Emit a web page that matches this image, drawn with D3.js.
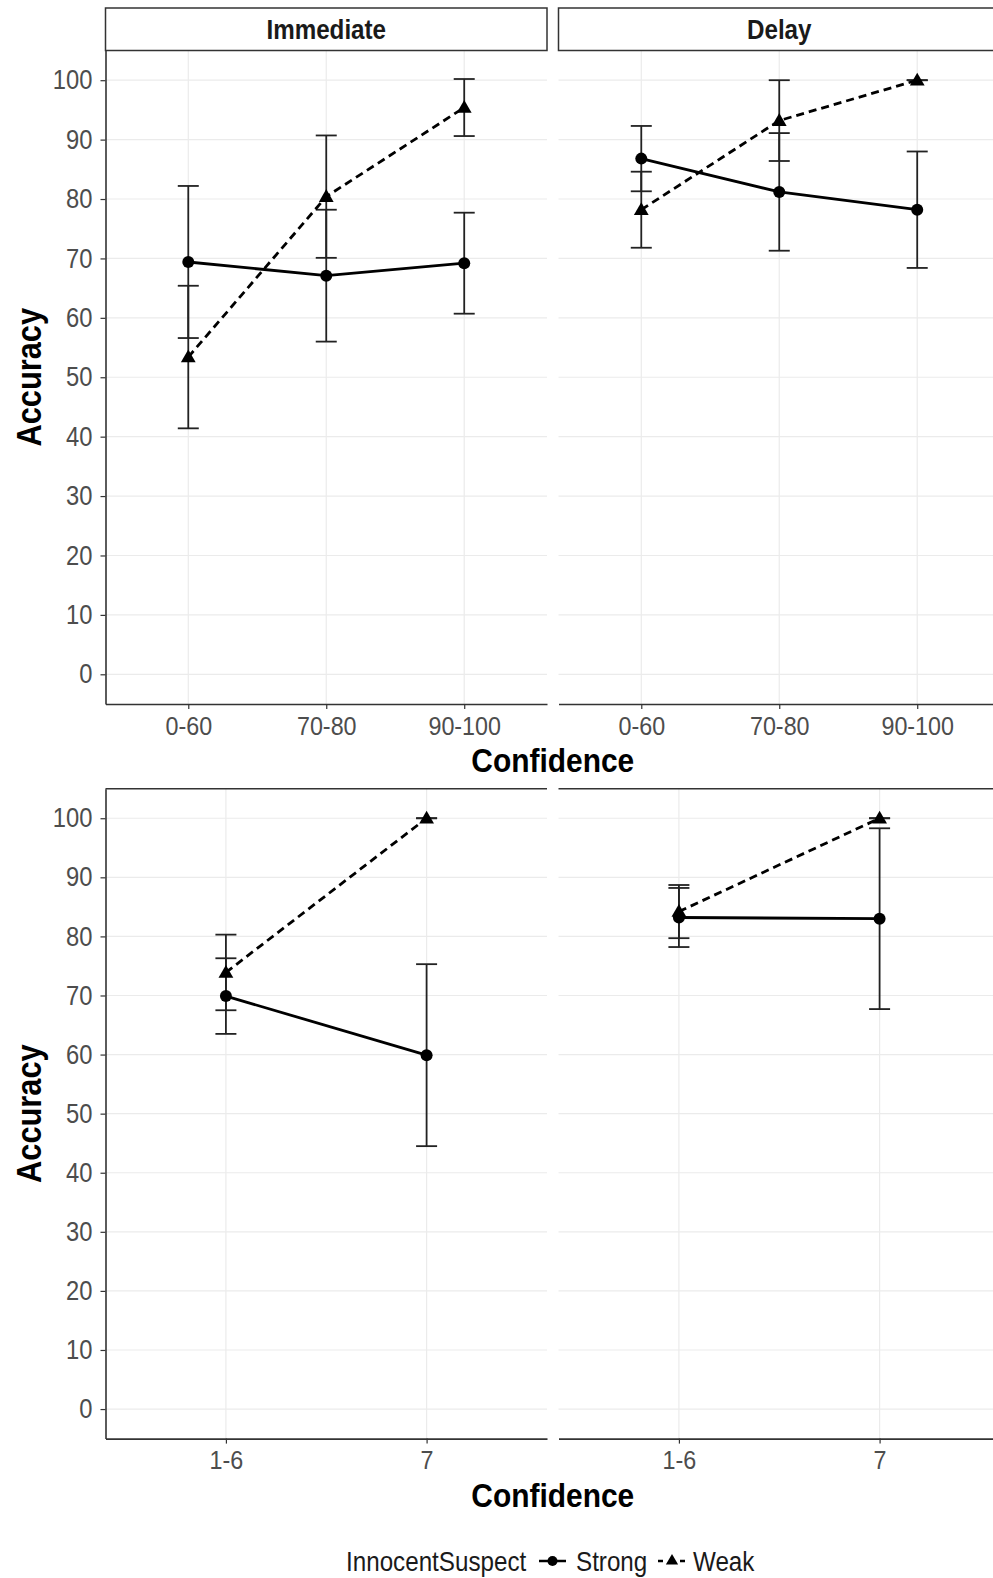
<!DOCTYPE html>
<html>
<head>
<meta charset="utf-8">
<script src="https://cdn.jsdelivr.net/npm/d3@7"></script>
<style>
  html, body { margin: 0; padding: 0; background: #fff; }
  #chart { width: 993px; height: 1578px; overflow: hidden; }
  text { font-family: "Liberation Sans", Arial, sans-serif; }
</style>
</head>
<body>
<div id="chart"></div>
<script>
// categories
const CONDITIONS = ["Immediate", "Delay"];
const TOP_CATS = ["0-60", "70-80", "90-100"];
const BOTTOM_CATS = ["1-6", "7"];
const SERIES = ["Strong", "Weak"];
const Y_TICKS = [0, 10, 20, 30, 40, 50, 60, 70, 80, 90, 100];

// top row (confidence 0-100 bins): means and error half-widths
const IMM_STRONG_TOP = [69.4, 67.1, 69.2];
const IMM_STRONG_TOP_ERR = [12.8, 11.1, 8.5];
const IMM_WEAK_TOP = [53.4, 80.4, 95.4];
const IMM_WEAK_TOP_ERR = [12.0, 10.3, 4.8];
const DEL_STRONG_TOP = [86.8, 81.2, 78.2];
const DEL_STRONG_TOP_ERR = [5.5, 9.9, 9.8];
const DEL_WEAK_TOP = [78.2, 93.2, 100];
const DEL_WEAK_TOP_ERR = [6.4, 6.8, 0];

// bottom row (confidence 1-7 scale)
const IMM_STRONG_BOT = [69.9, 59.9];
const IMM_STRONG_BOT_ERR = [6.4, 15.4];
const IMM_WEAK_BOT = [73.9, 100];
const IMM_WEAK_BOT_ERR = [6.4, 0];
const DEL_STRONG_BOT = [83.2, 83.0];
const DEL_STRONG_BOT_ERR = [5.0, 15.3];
const DEL_WEAK_BOT = [84.2, 100];
const DEL_WEAK_BOT_ERR = [4.5, 0];

// build series per panel
function makeSeries(cats, strong, strongErr, weak, weakErr) {
  return [
    { name: "Strong", pts: cats.map((c, i) => ({ cat: c, v: strong[i], e: strongErr[i] })) },
    { name: "Weak", pts: cats.map((c, i) => ({ cat: c, v: weak[i], e: weakErr[i] })) }
  ];
}

const rows = [
  { cats: TOP_CATS, y0: 50.5, y1: 704, strip: true,
    data: [makeSeries(TOP_CATS, IMM_STRONG_TOP, IMM_STRONG_TOP_ERR, IMM_WEAK_TOP, IMM_WEAK_TOP_ERR),
           makeSeries(TOP_CATS, DEL_STRONG_TOP, DEL_STRONG_TOP_ERR, DEL_WEAK_TOP, DEL_WEAK_TOP_ERR)] },
  { cats: BOTTOM_CATS, y0: 788.7, y1: 1438.6, strip: false,
    data: [makeSeries(BOTTOM_CATS, IMM_STRONG_BOT, IMM_STRONG_BOT_ERR, IMM_WEAK_BOT, IMM_WEAK_BOT_ERR),
           makeSeries(BOTTOM_CATS, DEL_STRONG_BOT, DEL_STRONG_BOT_ERR, DEL_WEAK_BOT, DEL_WEAK_BOT_ERR)] }
];

const cols = [105.5, 558.5];
const panelW = 441.5;
const AXIS = "#333333";
const GRID = "#ebebeb";
const TICK_TXT = "#4d4d4d";
const SQX = 0.88; // the source text is slightly condensed

const svg = d3.select("#chart").append("svg")
  .attr("width", 993)
  .attr("height", 1578);

function drawTriangle(g, x, y, s) {
  g.append("path")
    .attr("d", d3.symbol(d3.symbolTriangle, s)())
    .attr("transform", `translate(${x},${y + 1})`)
    .attr("fill", "#000");
}

// condensed text helper
function label(g, x, y, str, size, opts = {}) {
  return g.append("text")
    .attr("transform", `translate(${x},${y})${opts.rotate ? " rotate(-90)" : ""} scale(${SQX},1)`)
    .attr("dy", "0.36em")
    .attr("text-anchor", opts.anchor || "middle")
    .style("font-size", size + "px")
    .style("font-weight", opts.bold ? "bold" : "normal")
    .attr("fill", opts.fill || "#000")
    .text(str);
}

rows.forEach(row => {
  const y = d3.scaleLinear().domain([-5, 105]).range([row.y1, row.y0]);

  cols.forEach((x0, ci) => {
    const x = d3.scalePoint().domain(row.cats).range([x0, x0 + panelW]).padding(0.6);
    const g = svg.append("g");

    // grid
    g.selectAll(".hgrid").data(Y_TICKS).enter().append("line")
      .attr("x1", x0).attr("x2", x0 + panelW)
      .attr("y1", d => y(d)).attr("y2", d => y(d))
      .attr("stroke", GRID).attr("stroke-width", 1.2);
    g.selectAll(".vgrid").data(row.cats).enter().append("line")
      .attr("x1", d => x(d)).attr("x2", d => x(d))
      .attr("y1", row.y0).attr("y2", row.y1)
      .attr("stroke", GRID).attr("stroke-width", 1.2);

    // strip or top border
    if (row.strip) {
      g.append("rect")
        .attr("x", x0).attr("y", 8)
        .attr("width", panelW).attr("height", row.y0 - 8)
        .attr("fill", "#fff").attr("stroke", AXIS).attr("stroke-width", 1.5);
      label(g, x0 + panelW / 2, (8 + row.y0) / 2, CONDITIONS[ci], 27.5, { bold: true, fill: "#1a1a1a" });
    } else {
      g.append("line")
        .attr("x1", x0).attr("x2", x0 + panelW)
        .attr("y1", row.y0).attr("y2", row.y0)
        .attr("stroke", AXIS).attr("stroke-width", 1.5);
    }

    // x axis
    const xa = g.append("g")
      .attr("transform", `translate(0,${row.y1})`)
      .call(d3.axisBottom(x).tickSize(5).tickSizeOuter(0).tickPadding(7));
    xa.select(".domain").attr("stroke", AXIS).attr("stroke-width", 1.6);
    xa.selectAll(".tick line").attr("stroke", AXIS).attr("stroke-width", 1.2);
    xa.selectAll("text").attr("fill", TICK_TXT).style("font-size", "26.5px")
      .attr("transform", `scale(${SQX},1)`)
      .style("font-family", "'Liberation Sans', Arial, sans-serif");

    // y axis only on left column
    if (ci === 0) {
      const ya = g.append("g")
        .attr("transform", `translate(${x0},0)`)
        .call(d3.axisLeft(y).tickValues(Y_TICKS).tickSize(5).tickSizeOuter(0).tickPadding(8));
      ya.select(".domain").attr("stroke", AXIS).attr("stroke-width", 1.6);
      ya.selectAll(".tick line").attr("stroke", AXIS).attr("stroke-width", 1.2);
      ya.selectAll("text").attr("fill", TICK_TXT).style("font-size", "27px")
        .attr("x", -13 / SQX)
        .attr("transform", `scale(${SQX},1)`)
        .style("font-family", "'Liberation Sans', Arial, sans-serif");
    }

    const seriesList = row.data[ci];

    // error bars
    seriesList.forEach(s => {
      s.pts.forEach(p => {
        const cx = x(p.cat);
        g.append("line")
          .attr("x1", cx).attr("x2", cx)
          .attr("y1", y(p.v + p.e)).attr("y2", y(p.v - p.e))
          .attr("stroke", "#222").attr("stroke-width", 1.8);
        [p.v + p.e, p.v - p.e].forEach(v => {
          g.append("line")
            .attr("x1", cx - 10.5).attr("x2", cx + 10.5)
            .attr("y1", y(v)).attr("y2", y(v))
            .attr("stroke", "#222").attr("stroke-width", 1.8);
        });
      });
    });

    // lines
    const line = d3.line().x(d => x(d.cat)).y(d => y(d.v));
    seriesList.forEach(s => {
      g.append("path")
        .datum(s.pts)
        .attr("d", line)
        .attr("fill", "none")
        .attr("stroke", "#000")
        .attr("stroke-width", 2.8)
        .attr("stroke-dasharray", s.name === "Weak" ? "8,5" : null);
    });

    // points
    seriesList.forEach(s => {
      s.pts.forEach(p => {
        if (s.name === "Strong") {
          g.append("circle")
            .attr("cx", x(p.cat)).attr("cy", y(p.v))
            .attr("r", 6).attr("fill", "#000");
        } else {
          drawTriangle(g, x(p.cat), y(p.v), 95);
        }
      });
    });
  });

  // axis titles
  label(svg, 28, (row.y0 + row.y1) / 2, "Accuracy", 35, { bold: true, rotate: true });
  label(svg, (cols[0] + cols[1] + panelW) / 2, row.y1 + 56, "Confidence", 34, { bold: true });
});

// legend
const lg = svg.append("g").attr("transform", "translate(0,1561)");
label(lg, 346, 0, "InnocentSuspect", 27.5, { anchor: "start", fill: "#1a1a1a" });
lg.append("line").attr("x1", 539).attr("x2", 566).attr("y1", 0).attr("y2", 0)
  .attr("stroke", "#000").attr("stroke-width", 2.5);
lg.append("circle").attr("cx", 552.5).attr("cy", 0).attr("r", 5).attr("fill", "#000");
label(lg, 576, 0, SERIES[0], 27.5, { anchor: "start", fill: "#1a1a1a" });
lg.append("line").attr("x1", 658).attr("x2", 686).attr("y1", 0).attr("y2", 0)
  .attr("stroke", "#000").attr("stroke-width", 2.5).attr("stroke-dasharray", "5,6");
drawTriangle(lg, 672, -1, 65);
label(lg, 693, 0, SERIES[1], 27.5, { anchor: "start", fill: "#1a1a1a" });
</script>
</body>
</html>
